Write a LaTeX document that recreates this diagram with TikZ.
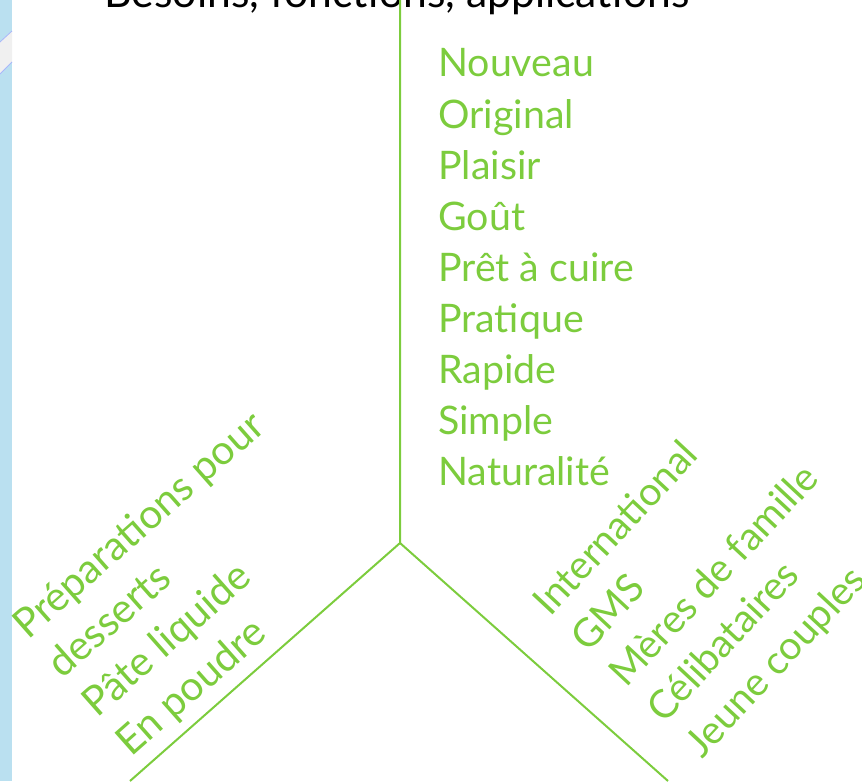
\documentclass[tikz,border=0pt]{standalone}
\usepackage{fontspec}
\setmainfont{Lato}
\definecolor{pousse}{RGB}{124,204,61}
\definecolor{ciel}{RGB}{186,224,240}
\newcommand{\motsize}{\fontsize{29.5}{35}\selectfont}
\newcommand{\pentesize}{\fontsize{30.5}{36}\selectfont}
\newcommand{\titresize}{\fontsize{32}{38}\selectfont}

\begin{document}
\begin{tikzpicture}[x=0.75pt,y=-0.75pt]
  \useasboundingbox (0,0) rectangle (862,781);
  \fill[ciel] (0,0) rectangle (12,781);
  \fill[gray!12] (0,42) -- (12,31) -- (12,62) -- (0,74) -- cycle;
  \draw[ciel!60!blue!60, line width=.6pt] (0,42) -- (12,31);
  \draw[ciel!60!blue!60, line width=.6pt] (0,74) -- (12,62);

      \node (titre) at (397,8) [anchor=base, inner sep=0pt, font=\titresize] {Besoins, fonctions, applications};

      \coordinate (haut) at (400,0);
      \coordinate (centre) at (400,543);
      \coordinate (basg) at (130,781);
      \coordinate (basd) at (668,781);
      \draw[pousse, line width=1.5pt] (haut) to (centre) to (basg);
      \draw[pousse, line width=1.5pt] (centre) to (basd);

      \node (b1) at (438,77)  [anchor=base west, inner sep=0pt, text=pousse, font=\motsize] {Nouveau};
      \node (b2) at (438,128) [anchor=base west, inner sep=0pt, text=pousse, font=\motsize] {Original};
      \node (b3) at (438,179) [anchor=base west, inner sep=0pt, text=pousse, font=\motsize] {Plaisir};
      \node (b4) at (438,230) [anchor=base west, inner sep=0pt, text=pousse, font=\motsize] {Goût};
      \node (b5) at (438,281) [anchor=base west, inner sep=0pt, text=pousse, font=\motsize] {Prêt à cuire};
      \node (b6) at (438,332) [anchor=base west, inner sep=0pt, text=pousse, font=\motsize] {Pratique};
      \node (b7) at (438,383) [anchor=base west, inner sep=0pt, text=pousse, font=\motsize] {Rapide};
      \node (b8) at (438,434) [anchor=base west, inner sep=0pt, text=pousse, font=\motsize] {Simple};
      \node (b9) at (438,485) [anchor=base west, inner sep=0pt, text=pousse, font=\motsize] {Naturalité};

      \node (p1) at (28,641)    [anchor=base west, inner sep=0pt, rotate=41.5, text=pousse, font=\pentesize] {Préparations pour};
      \node (p2) at (62.5,680)  [anchor=base west, inner sep=0pt, rotate=41.5, text=pousse, font=\pentesize] {desserts};
      \node (p3) at (97,719)    [anchor=base west, inner sep=0pt, rotate=41.5, text=pousse, font=\pentesize] {Pâte liquide};
      \node (p4) at (131.5,758) [anchor=base west, inner sep=0pt, rotate=41.5, text=pousse, font=\pentesize] {En poudre};

      \node (c1) at (550,618)   [anchor=base west, inner sep=0pt, rotate=47, text=pousse, font=\motsize] {International};
      \node (c2) at (588,653.5) [anchor=base west, inner sep=0pt, rotate=47, text=pousse, font=\motsize] {GMS};
      \node (c3) at (626,689)   [anchor=base west, inner sep=0pt, rotate=47, text=pousse, font=\motsize] {Mères de famille};
      \node (c4) at (664,724.5) [anchor=base west, inner sep=0pt, rotate=47, text=pousse, font=\motsize] {Célibataires};
      \node (c5) at (702,760)   [anchor=base west, inner sep=0pt, rotate=47, text=pousse, font=\motsize] {Jeune couples};

  \end{tikzpicture}
\end{document}
